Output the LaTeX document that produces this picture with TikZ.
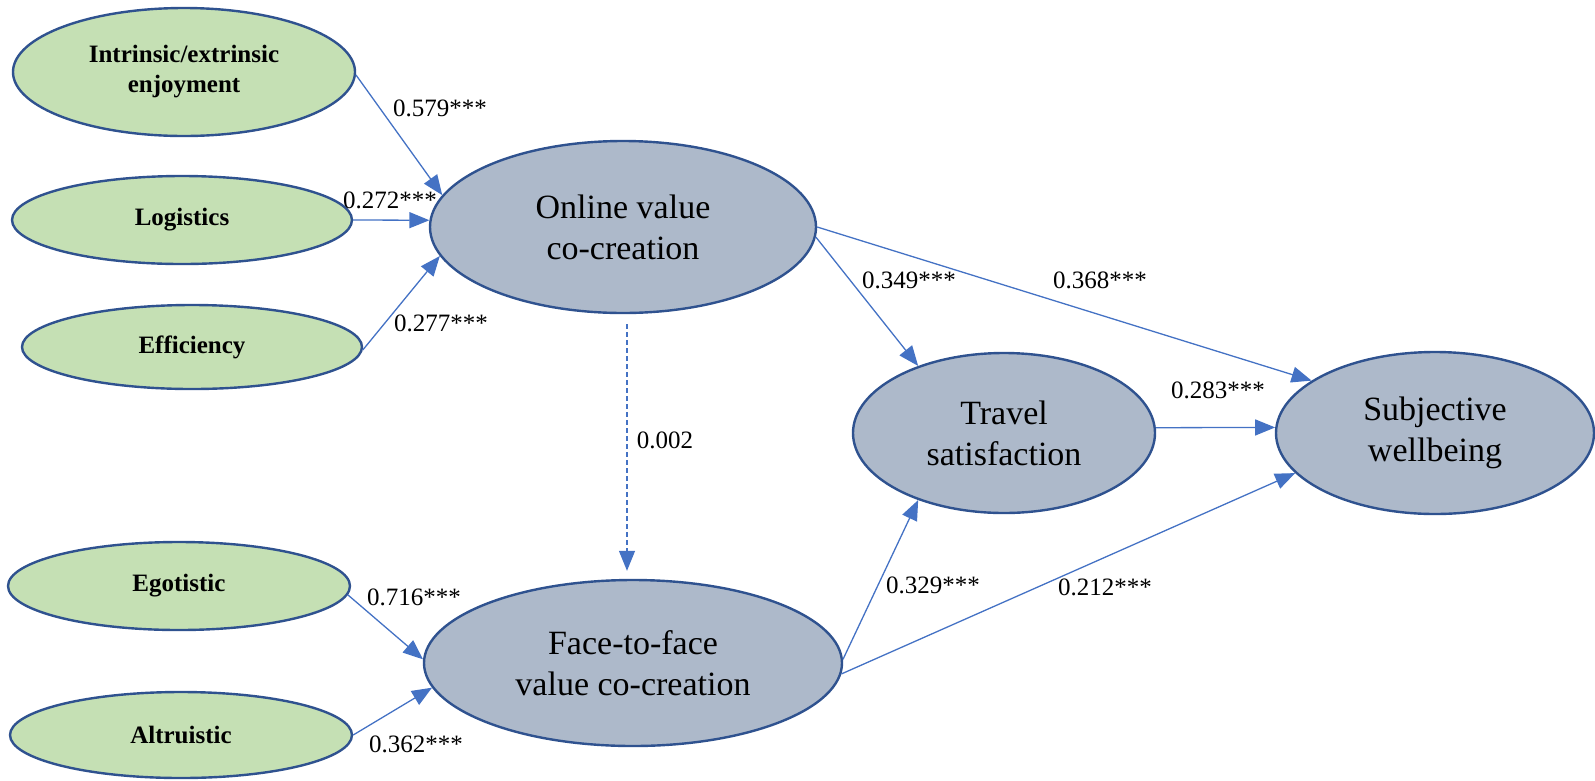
\documentclass[tikz,border=0pt]{standalone}
\usepackage{fontspec}
\setmainfont{Liberation Serif}
\usetikzlibrary{shapes.geometric,arrows.meta}
\definecolor{edgeblue}{HTML}{4472C4}
\definecolor{rimblue}{HTML}{2F528F}
\definecolor{greenfill}{HTML}{C5E0B4}
\definecolor{greyfill}{HTML}{ADB9CA}
\begin{document}
\begin{tikzpicture}[x=1pt,y=-1pt,
  exo/.style={ellipse, draw=rimblue, line width=2.4pt, fill=greenfill, inner sep=0pt, align=center, font=\fontsize{25}{30}\selectfont\bfseries},
  endo/.style={ellipse, draw=rimblue, line width=2.4pt, fill=greyfill, inner sep=0pt, align=center, font=\fontsize{34}{41}\selectfont},
  link/.style={draw=edgeblue, line width=1.3pt, -{Triangle[length=20pt,width=16pt]}},
  dashlink/.style={link, dash pattern=on 5pt off 3pt},
  coef/.style={font=\fontsize{25}{30}\selectfont, inner sep=0pt}
]
\useasboundingbox (0,0) rectangle (1595,780);

\node[exo, minimum width=342pt, minimum height=128pt] (intr) at (184,72) {Intrinsic/extrinsic\\enjoyment};
\node[exo, minimum width=340pt, minimum height=88pt] (logi) at (182,220) {Logistics};
\node[exo, minimum width=340pt, minimum height=84pt] (effi) at (192,347) {Efficiency};
\node[exo, minimum width=342pt, minimum height=88pt] (egot) at (179,586) {Egotistic};
\node[exo, minimum width=342pt, minimum height=86pt] (altr) at (181,735) {Altruistic};

\node[endo, minimum width=386pt, minimum height=172pt] (onl) at (623,227) {Online value\\co-creation};
\node[endo, minimum width=418pt, minimum height=166pt] (f2f) at (633,663) {Face-to-face\\value co-creation};
\node[endo, minimum width=302pt, minimum height=160pt] (trav) at (1004,433) {Travel\\satisfaction};
\node[endo, minimum width=318pt, minimum height=162pt] (swb) at (1435,433) {Subjective\\wellbeing};

\draw[link] (intr.-1) -- (onl.170);
\draw[link] (logi.east) -- (onl.178);
\draw[link] (effi.-1) -- (onl.189);
\draw[dashlink] ([xshift=4pt,yshift=-10pt]onl.south) -- ([xshift=-6pt,yshift=8pt]f2f.north);
\draw[link] (egot.-3) -- (f2f.179);
\draw[link] (altr.east) -- (f2f.187);
\draw[link] (onl.-3) -- (trav.142);
\draw[link] (onl.east) -- (swb.157);
\draw[link] (trav.2) -- (swb.178);
\draw[link] (f2f.1) -- (trav.218);
\draw[link] (f2f.-3) -- (swb.196);

\node[coef] (c1) at (440,108) {0.579***};
\node[coef] (c2) at (390,200) {0.272***};
\node[coef] (c3) at (441,323) {0.277***};
\node[coef] (c4) at (665,440) {0.002};
\node[coef] (c5) at (414,597) {0.716***};
\node[coef] (c6) at (416,744) {0.362***};
\node[coef] (c7) at (909,280) {0.349***};
\node[coef] (c8) at (1100,280) {0.368***};
\node[coef] (c9) at (1218,390) {0.283***};
\node[coef] (c10) at (933,585) {0.329***};
\node[coef] (c11) at (1105,587) {0.212***};
\end{tikzpicture}
\end{document}
